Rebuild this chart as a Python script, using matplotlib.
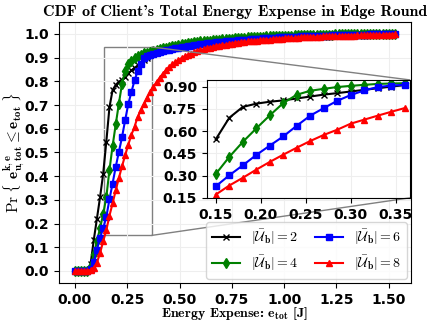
import matplotlib
matplotlib.use("Agg")
import matplotlib.pyplot as plt
import numpy as np
from mpl_toolkits.axes_grid1.inset_locator import mark_inset

plt.rcParams['mathtext.fontset'] = 'cm'
plt.rcParams['font.weight'] = 'bold'

# energy grid [J], one sample every 0.015 J
energy = np.linspace(0, 1.53, 103)

# CDF values
cdf_u2 = [0, 0, 0, 0, 0, 0.03, 0.13, 0.22, 0.31, 0.41,
          0.545, 0.69, 0.763, 0.785, 0.798, 0.807, 0.82, 0.833, 0.846, 0.856,
          0.867, 0.878, 0.889, 0.90, 0.91, 0.917, 0.923, 0.928, 0.933, 0.937,
          0.941, 0.944, 0.947, 0.950, 0.953, 0.955, 0.957, 0.959, 0.961, 0.963,
          0.965, 0.967, 0.968, 0.970, 0.971, 0.973, 0.974, 0.975, 0.976, 0.977,
          0.978, 0.979, 0.980, 0.981, 0.982, 0.983, 0.984, 0.984, 0.985, 0.986,
          0.986, 0.987, 0.988, 0.988, 0.989, 0.989, 0.990, 0.990, 0.991, 0.991,
          0.992, 0.992, 0.993, 0.993, 0.993, 0.994, 0.994, 0.994, 0.995, 0.995,
          0.995, 0.996, 0.996, 0.996, 0.997, 0.997, 0.997, 0.997, 0.998, 0.998,
          0.998, 0.998, 0.999, 0.999, 0.999, 0.999, 0.999, 1, 1, 1,
          1, 1, 1]
cdf_u4 = [0, 0, 0, 0, 0, 0.02, 0.07, 0.125, 0.18, 0.24,
          0.311, 0.426, 0.527, 0.618, 0.706, 0.789, 0.845, 0.872, 0.885, 0.897,
          0.905, 0.912, 0.918, 0.921, 0.923, 0.927, 0.931, 0.935, 0.939, 0.942,
          0.945, 0.948, 0.951, 0.954, 0.956, 0.958, 0.960, 0.962, 0.964, 0.966,
          0.968, 0.969, 0.971, 0.972, 0.974, 0.975, 0.976, 0.977, 0.978, 0.979,
          0.980, 0.981, 0.982, 0.983, 0.984, 0.985, 0.986, 0.986, 0.987, 0.988,
          0.988, 0.989, 0.990, 0.990, 0.991, 0.991, 0.992, 0.992, 0.993, 0.993,
          0.994, 0.994, 0.994, 0.995, 0.995, 0.995, 0.996, 0.996, 0.996, 0.997,
          0.997, 0.997, 0.997, 0.998, 0.998, 0.998, 0.998, 0.998, 0.999, 0.999,
          0.999, 0.999, 0.999, 0.999, 1, 1, 1, 1, 1, 1,
          1, 1, 1]
cdf_u6 = [0, 0, 0, 0, 0, 0.01, 0.04, 0.09, 0.14, 0.18,
          0.228, 0.302, 0.369, 0.439, 0.502, 0.564, 0.636, 0.704, 0.755, 0.804,
          0.843, 0.874, 0.897, 0.907, 0.912, 0.916, 0.920, 0.924, 0.927, 0.930,
          0.933, 0.936, 0.939, 0.941, 0.944, 0.946, 0.948, 0.950, 0.952, 0.954,
          0.956, 0.958, 0.960, 0.961, 0.963, 0.964, 0.966, 0.967, 0.968, 0.970,
          0.971, 0.972, 0.973, 0.974, 0.975, 0.976, 0.977, 0.978, 0.979, 0.980,
          0.981, 0.982, 0.982, 0.983, 0.984, 0.985, 0.985, 0.986, 0.987, 0.987,
          0.988, 0.988, 0.989, 0.990, 0.990, 0.991, 0.991, 0.992, 0.992, 0.992,
          0.993, 0.993, 0.994, 0.994, 0.994, 0.995, 0.995, 0.995, 0.996, 0.996,
          0.996, 0.997, 0.997, 0.997, 0.998, 0.998, 0.998, 0.998, 0.999, 0.999,
          0.999, 0.999, 1.0]
cdf_u8 = [0, 0, 0, 0, 0, 0.005, 0.013, 0.035, 0.075, 0.125,
          0.172, 0.233, 0.285, 0.34, 0.392, 0.441, 0.488, 0.533, 0.574, 0.609,
          0.65, 0.677, 0.704, 0.73, 0.755, 0.777, 0.797, 0.815, 0.832, 0.847,
          0.860, 0.871, 0.881, 0.890, 0.898, 0.905, 0.911, 0.917, 0.922, 0.927,
          0.931, 0.935, 0.939, 0.942, 0.945, 0.948, 0.951, 0.953, 0.955, 0.957,
          0.959, 0.961, 0.963, 0.965, 0.966, 0.968, 0.969, 0.970, 0.972, 0.973,
          0.974, 0.975, 0.976, 0.977, 0.978, 0.979, 0.980, 0.981, 0.982, 0.982,
          0.983, 0.984, 0.985, 0.985, 0.986, 0.987, 0.987, 0.988, 0.988, 0.989,
          0.989, 0.990, 0.990, 0.991, 0.991, 0.992, 0.992, 0.993, 0.993, 0.993,
          0.994, 0.994, 0.994, 0.995, 0.995, 0.995, 0.996, 0.996, 0.996, 0.997,
          0.997, 0.997, 0.998]

series = [
    (cdf_u2, 'black', 'x', r'$|\bar{\mathcal{U}}_{\mathbf{b}}| = 2$'),
    (cdf_u4, 'green', 'd', r'$|\bar{\mathcal{U}}_{\mathbf{b}}| = 4$'),
    (cdf_u6, 'blue', 's', r'$|\bar{\mathcal{U}}_{\mathbf{b}}| = 6$'),
    (cdf_u8, 'red', '^', r'$|\bar{\mathcal{U}}_{\mathbf{b}}| = 8$'),
]

fig = plt.figure(figsize=(4.3, 3.24), dpi=100)
ax = fig.add_axes([0.137, 0.127, 0.819, 0.805])

for vals, col, mk, lab in series:
    ax.plot(energy, vals, color=col, marker=mk, markersize=5, linewidth=1.5, label=lab)

ax.grid(True, color='#eeeeee', linewidth=0.8)
ax.set_xticks([0, 0.25, 0.5, 0.75, 1.0, 1.25, 1.5])
ax.set_yticks(np.arange(0, 1.01, 0.1))
ax.tick_params(labelsize=10)
ax.set_title("CDF of Client's Total Energy Expense in Edge Round",
             fontfamily='cmb10', fontsize=11.5, pad=4)
ax.set_xlabel(r'Energy Expense: $\mathbf{e_{tot}}$ [J]', fontfamily='cmb10',
              fontsize=10)
ax.xaxis.set_label_coords(0.5, -0.083)
ax.set_ylabel(r'$\mathrm{Pr}\ \{\ \mathbf{e}_{\mathbf{u,tot}}^{\mathbf{k,e}} \leq \mathbf{e}_{\mathbf{tot}}\ \}$',
              fontsize=11)
ax.yaxis.set_label_coords(-0.09, 0.5)

leg = ax.legend(loc='lower right', ncol=2, fontsize=10, handlelength=2,
                columnspacing=1.2, borderaxespad=0.3)

# zoomed inset, only the samples inside its window
sel = slice(10, 25)
axins = ax.inset_axes([0.42, 0.326, 0.577, 0.452])
for vals, col, mk, lab in series:
    axins.plot(energy[sel], vals[sel], color=col, marker=mk, markersize=5, linewidth=1.5)
axins.set_xlim(0.14, 0.366)
axins.set_ylim(0.15, 0.945)
axins.set_xticks([0.15, 0.2, 0.25, 0.3, 0.35])
axins.set_yticks([0.15, 0.3, 0.45, 0.6, 0.75, 0.9])
axins.tick_params(labelsize=10)
axins.grid(True, color='#eeeeee', linewidth=0.8)
mark_inset(ax, axins, loc1=1, loc2=4, fc='none', ec='0.5')

fig.savefig('out.png', dpi=100)
